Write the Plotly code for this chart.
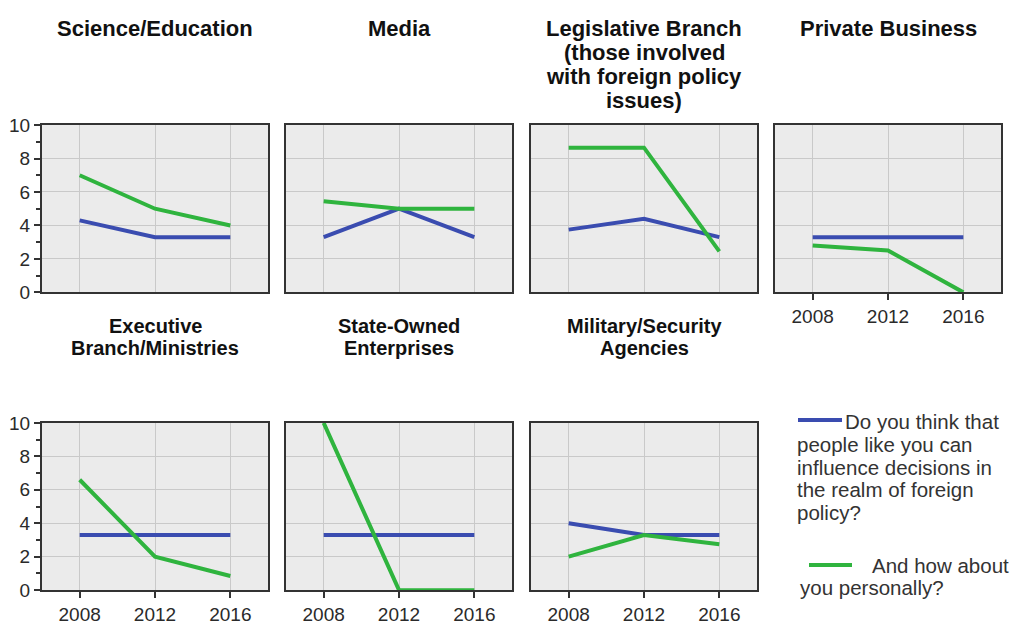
import plotly.graph_objects as go

# ---------------- data ----------------
years = [2008, 2012, 2016]

panel_titles = [
    ["Science/Education"],
    ["Media"],
    ["Legislative Branch", "(those involved", "with foreign policy", "issues)"],
    ["Private Business"],
    ["Executive", "Branch/Ministries"],
    ["State-Owned", "Enterprises"],
    ["Military/Security", "Agencies"],
]

series_names = [
    "Do you think that people like you can influence decisions in the realm of foreign policy?",
    "And how about you personally?",
]

influence_people = [
    [4.3, 3.3, 3.3],   # Science/Education
    [3.3, 5.0, 3.3],   # Media
    [3.75, 4.4, 3.3],  # Legislative
    [3.3, 3.3, 3.3],   # Private Business
    [3.3, 3.3, 3.3],   # Executive
    [3.3, 3.3, 3.3],   # State-Owned
    [4.0, 3.3, 3.3],   # Military/Security
]

influence_personal = [
    [7.0, 5.0, 4.0],
    [5.45, 5.0, 5.0],
    [8.65, 8.65, 2.45],
    [2.8, 2.5, 0.0],
    [6.6, 2.0, 0.85],
    [10.0, 0.0, 0.0],
    [2.0, 3.3, 2.75],
]

legend_lines_1 = ["Do you think that", "people like you can", "influence decisions in",
                  "the realm of foreign", "policy?"]
legend_lines_2 = ["And how about", "you personally?"]

y_ticks = [0, 2, 4, 6, 8, 10]

# ---------------- styling ----------------
W, H = 1032, 635
BLUE = "#3a4cb0"
GREEN = "#2fb43e"
FONT = "Liberation Sans, Arial, sans-serif"

col_px = [(42, 268), (286, 512), (531, 757), (775, 1001)]
row_px = [(119, 292), (427, 600)]

def px_x(v):
    return v / W

def px_y(v):
    return 1 - v / H

fig = go.Figure()

positions = [(0, 0), (0, 1), (0, 2), (0, 3), (1, 0), (1, 1), (1, 2)]
x_label_panels = {3, 4, 5, 6}

annotations = []
for i, (r, c) in enumerate(positions):
    n = i + 1
    xa = "x" if n == 1 else f"x{n}"
    ya = "y" if n == 1 else f"y{n}"
    fig.add_trace(go.Scatter(x=years, y=influence_people[i], mode="lines",
                             line=dict(color=BLUE, width=4), name=series_names[0],
                             showlegend=False, xaxis=xa, yaxis=ya, hoverinfo="x+y"))
    fig.add_trace(go.Scatter(x=years, y=influence_personal[i], mode="lines",
                             line=dict(color=GREEN, width=4), name=series_names[1],
                             showlegend=False, xaxis=xa, yaxis=ya, hoverinfo="x+y"))
    x0, x1 = col_px[c]
    y0, y1 = row_px[r]
    show_x = i in x_label_panels
    show_y = c == 0
    xkey = "xaxis" if n == 1 else f"xaxis{n}"
    ykey = "yaxis" if n == 1 else f"yaxis{n}"
    fig.layout[xkey] = dict(
        domain=[px_x(x0), px_x(x1)], anchor=ya, range=[2006, 2018],
        tickvals=years, showticklabels=show_x, ticks="outside" if show_x else "",
        ticklen=6, tickwidth=2, tickcolor="#333",
        showgrid=True, gridcolor="#c9c9c9", gridwidth=1,
        showline=True, mirror=True, linecolor="#333", linewidth=2,
        zeroline=False, fixedrange=True,
        tickfont=dict(family=FONT, size=19, color="#2a2a2a"),
    )
    ydict = dict(
        domain=[px_y(y1), px_y(y0)], anchor=xa, range=[0, 10],
        tickvals=y_ticks, showticklabels=show_y, ticks="outside" if show_y else "",
        ticklen=6, tickwidth=2, tickcolor="#333",
        showgrid=True, gridcolor="#c9c9c9", gridwidth=1,
        showline=True, mirror=True, linecolor="#333", linewidth=2,
        zeroline=False, fixedrange=True,
        tickfont=dict(family=FONT, size=19, color="#2a2a2a"),
    )
    if show_y:
        ydict["minor"] = dict(dtick=1, ticks="outside", ticklen=4, tickwidth=1.5,
                              tickcolor="#333", showgrid=False)
    fig.layout[ykey] = ydict

    # panel titles (one annotation per line, tight line spacing)
    cx = (x0 + x1) / 2
    if r == 0:
        start, step, size = 19, 24.8, 22
    else:
        start, step, size = 327, 23.0, 20
    for k, line in enumerate(panel_titles[i]):
        annotations.append(dict(
            text=f"<b>{line}</b>", x=px_x(cx), y=px_y(start + k * step),
            xref="paper", yref="paper", xanchor="center", yanchor="middle",
            showarrow=False, font=dict(family=FONT, size=size, color="#111")))

# ---------------- custom legend ----------------
shapes = [
    dict(type="line", xref="paper", yref="paper", x0=px_x(798), x1=px_x(842),
         y0=px_y(424), y1=px_y(424), line=dict(color=BLUE, width=4)),
    dict(type="line", xref="paper", yref="paper", x0=px_x(809), x1=px_x(852),
         y0=px_y(574), y1=px_y(574), line=dict(color=GREEN, width=4)),
]
leg_font = dict(family=FONT, size=20.5, color="#333")
for k, line in enumerate(legend_lines_1):
    xs = 843 if k == 0 else 795
    annotations.append(dict(text=line, x=px_x(xs), y=px_y(426 + k * 23.4),
                            xref="paper", yref="paper", xanchor="left", yanchor="middle",
                            showarrow=False, font=leg_font))
for k, line in enumerate(legend_lines_2):
    xs = 870 if k == 0 else 798
    annotations.append(dict(text=line, x=px_x(xs), y=px_y(574 + k * 23.4),
                            xref="paper", yref="paper", xanchor="left", yanchor="middle",
                            showarrow=False, font=leg_font))

fig.update_layout(
    width=W, height=H, margin=dict(l=0, r=0, t=0, b=0),
    paper_bgcolor="white", plot_bgcolor="#ebebeb",
    annotations=annotations, shapes=shapes, showlegend=False,
    font=dict(family=FONT),
)

fig.write_html("out.html")
